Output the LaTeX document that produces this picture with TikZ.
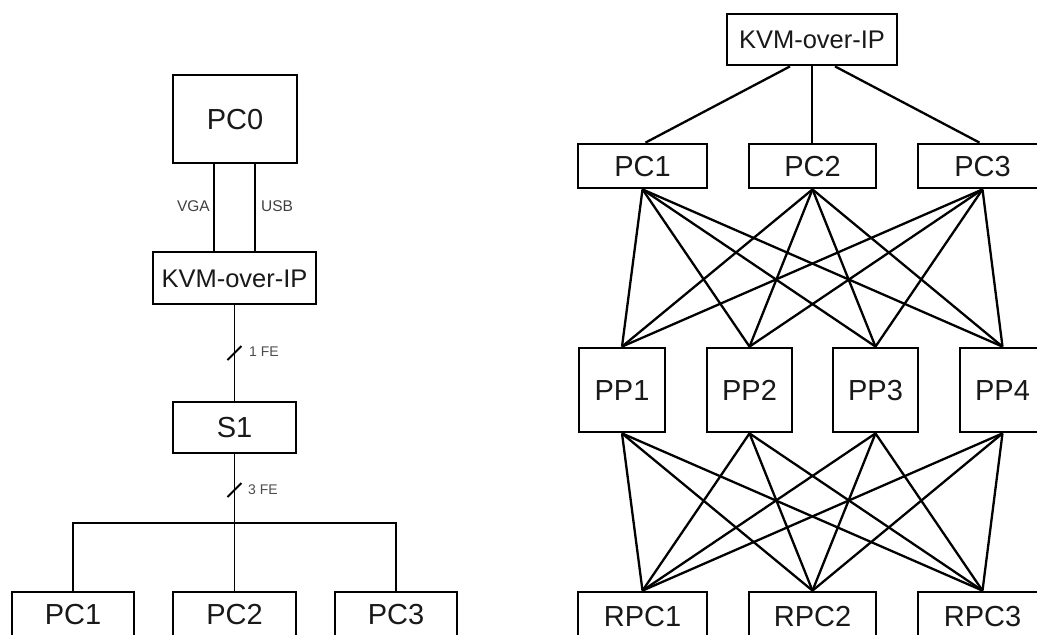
\documentclass[tikz,border=0pt]{standalone}
\usepackage{fontspec}
\setmainfont{Liberation Sans}
\usetikzlibrary{calc}
\begin{document}
\begin{tikzpicture}[x=1pt,y=-1pt,
  box/.style={draw=black,line width=2.8pt,inner sep=0pt,text=black!90,text depth=0pt},
  wire/.style={draw=black,line width=2.3pt},
  thin/.style={draw=black,line width=1.8pt},
  lbl/.style={inner sep=0pt,text=black!75,font=\fontsize{15.5}{16}\selectfont},
  fe/.style={inner sep=0pt,text=black!70,font=\fontsize{14}{14}\selectfont},
  big/.style={font=\fontsize{29}{30}\selectfont,text height=20.8pt},
  mid/.style={font=\fontsize{25.5}{27}\selectfont,text height=18.3pt}]
\useasboundingbox (0,0) rectangle (1037,635);
\clip (0,0) rectangle (1037,635);
\fill[white] (0,0) rectangle (1037,635);
% ---------- left diagram ----------
\node[box,big,minimum width=124pt,minimum height=88pt] (pc0) at (235,119) {PC0};
\node[box,mid,minimum width=163pt,minimum height=52pt] (kvml) at (234.5,278) {KVM-over-IP};
\node[box,big,minimum width=123pt,minimum height=51pt] (s1) at (234.5,427.5) {S1};
\node[box,big,minimum width=122pt,minimum height=44pt] (pc1l) at (73,614) {PC1};
\node[box,big,minimum width=123pt,minimum height=44pt] (pc2l) at (234.5,614) {PC2};
\node[box,big,minimum width=122pt,minimum height=44pt] (pc3l) at (396,614) {PC3};
\draw[wire] ([xshift=-21pt]pc0.south) -- ([xshift=-20.5pt]kvml.north);
\draw[wire] ([xshift=20pt]pc0.south) -- ([xshift=20.5pt]kvml.north);
\node[lbl,anchor=east] (vga) at (210,206) {VGA};
\node[lbl,anchor=west] (usb) at (261,206) {USB};
\draw[thin] (kvml.south) -- (s1.north);
\coordinate (sl1) at ($(kvml.south)!0.5!(s1.north)$);
\draw[thin] (sl1) +(-7,7) -- +(7,-7);
\node[fe,anchor=west] (fe1) at (249,352) {1 FE};
\draw[thin] (s1.south) -- (pc2l.north);
\coordinate (sl3) at (234.5,490);
\draw[thin] (sl3) +(-7,7) -- +(7,-7);
\node[fe,anchor=west] (fe3) at (248,490) {3 FE};
\coordinate (busl) at (73,523);
\coordinate (busr) at (396,523);
\draw[wire] (pc1l.north) -- (busl) -- (busr) -- (pc3l.north);
% ---------- right diagram ----------
\node[box,mid,minimum width=170pt,minimum height=51pt] (kvmr) at (812,39.5) {KVM-over-IP};
\node[box,big,minimum width=129pt,minimum height=44pt] (pc1) at (642.5,166) {PC1};
\node[box,big,minimum width=127pt,minimum height=44pt] (pc2) at (812.5,166) {PC2};
\node[box,big,minimum width=129pt,minimum height=44pt] (pc3) at (982.5,166) {PC3};
\node[box,big,minimum width=86pt,minimum height=84pt] (pp1) at (622,390) {PP1};
\node[box,big,minimum width=85pt,minimum height=84pt] (pp2) at (749.5,390) {PP2};
\node[box,big,minimum width=85pt,minimum height=84pt] (pp3) at (875.5,390) {PP3};
\node[box,big,minimum width=85pt,minimum height=84pt] (pp4) at (1002.5,390) {PP4};
\node[box,big,minimum width=129pt,minimum height=48pt] (rpc1) at (642.5,616) {RPC1};
\node[box,big,minimum width=127pt,minimum height=48pt] (rpc2) at (812.5,616) {RPC2};
\node[box,big,minimum width=129pt,minimum height=48pt] (rpc3) at (982.5,616) {RPC3};
\draw[wire] ([xshift=-22pt]kvmr.south) -- ([xshift=3pt]pc1.north);
\draw[wire] (kvmr.south) -- (pc2.north -| kvmr.south);
\draw[wire] ([xshift=23pt]kvmr.south) -- ([xshift=-3pt]pc3.north);
\foreach \a in {pc1,pc2,pc3}{
  \foreach \b in {pp1,pp2,pp3,pp4}{
    \draw[wire] (\a.south) -- (\b.north);
  }
}
\foreach \a in {pp1,pp2,pp3,pp4}{
  \foreach \b in {rpc1,rpc2,rpc3}{
    \draw[wire] (\a.south) -- (\b.north);
  }
}
\end{tikzpicture}
\end{document}
